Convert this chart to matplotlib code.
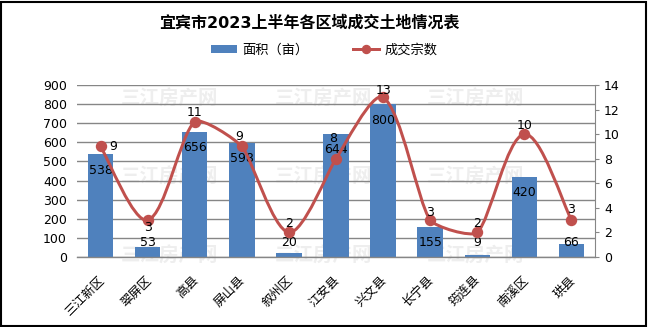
import numpy as np
import matplotlib
matplotlib.use("Agg")
import matplotlib.pyplot as plt
from matplotlib.path import Path
from matplotlib.patches import PathPatch, Rectangle, Patch
from matplotlib.lines import Line2D
from matplotlib.transforms import ScaledTranslation

plt.rcParams['font.family'] = ['DejaVu Sans', 'Noto Sans CJK SC']

# ---- data ----
districts = ['三江新区', '翠屏区', '高县', '屏山县', '叙州区', '江安县',
             '兴文县', '长宁县', '筠连县', '南溪区', '珙县']
area_mu = [538, 53, 656, 598, 20, 644, 800, 155, 9, 420, 66]
deal_count = [9, 3, 11, 9, 2, 8, 13, 3, 2, 10, 3]
left_ticks = [0, 100, 200, 300, 400, 500, 600, 700, 800, 900]
right_ticks = [0, 2, 4, 6, 8, 10, 12, 14]

# label placement for the count series (offset in pixels: dx, dy, ha)
count_label_offsets = [(9, 0, 'left'), (0, -7, 'center'), (0, 9, 'center'),
                       (-3, 10, 'center'), (0, 9, 'center'), (-3, 20, 'center'),
                       (0, 7, 'center'), (0, 8, 'center'), (0, 9, 'center'),
                       (0, 9, 'center'), (0, 11, 'center')]

BAR = '#4F81BD'
LINE = '#C0504D'
GRID = '#868686'
DPI = 100
PX = 72 / DPI  # points per pixel

W, H = 648, 327
fig = plt.figure(figsize=(W / DPI, H / DPI), dpi=DPI)
ax = fig.add_axes([77 / W, 1 - 257 / H, (595 - 77) / W, (257 - 85) / H])
ax2 = ax.twinx()
for a in (ax, ax2):
    a.patch.set_alpha(0)

# watermark
for wy in (99, 177, 256):
    for wx in (170, 323, 476):
        fig.text(wx / W, 1 - wy / H, '三江房产网', fontsize=14, fontweight='bold',
                 color='#eeeeee', ha='center', va='center', zorder=-5,
                 family='Noto Sans CJK SC')

x = np.arange(len(districts))

# bars
ax.bar(x, area_mu, width=0.54, color=BAR, zorder=2)
ax.set_ylim(0, 900)
ax.set_xlim(-0.5, len(districts) - 0.5)
ax.set_yticks(left_ticks)
ax.yaxis.grid(True, color=GRID, linewidth=1.0, zorder=0)
ax.set_axisbelow(True)
for s in ('top', 'left', 'right'):
    ax.spines[s].set_visible(False)
ax.spines['bottom'].set_color(GRID)
ax.spines['bottom'].set_linewidth(1.0)
ax.tick_params(axis='y', length=0, pad=10 * PX, labelsize=9)
ax.tick_params(axis='x', length=0, pad=12)
ax.set_xticks(x)
ax.set_xticklabels(districts, rotation=45, ha='right', va='top',
                   rotation_mode='anchor', fontsize=9, family='Noto Sans CJK SC')
shift = ScaledTranslation(-3 / DPI, 0, fig.dpi_scale_trans)
for lbl in ax.get_xticklabels():
    lbl.set_transform(lbl.get_transform() + shift)

# bar value labels
for xi, v in zip(x, area_mu):
    if v * 172 / 900 > 31:
        ax.annotate(str(v), (xi, v), xytext=(0, -16 * PX), textcoords='offset points',
                    ha='center', va='center', fontsize=9, zorder=5)
    else:
        ax.annotate(str(v), (xi, 0), xytext=(0, 15 * PX), textcoords='offset points',
                    ha='center', va='center', fontsize=9, zorder=5)

ax2.set_ylim(0, 14)
ax2.set_yticks(right_ticks)

# smoothed count line: Bezier segments with tangents scaled by neighbouring
# segment lengths, computed in screen space
pts_data = np.column_stack([x, deal_count]).astype(float)
pts = ax2.transData.transform(pts_data)
n = len(pts)
tension = 1 / 6
c_out, c_in = [], []
for i in range(n):
    prev_p = pts[i - 1] if i > 0 else pts[i]
    next_p = pts[i + 1] if i < n - 1 else pts[i]
    tang = next_p - prev_p
    d02 = np.hypot(*tang)
    d01 = np.hypot(*(pts[i] - prev_p))
    d12 = np.hypot(*(next_p - pts[i]))
    c_in.append(pts[i] - tang * tension * d01 / d02)
    c_out.append(pts[i] + tang * tension * d12 / d02)
verts = [pts[0]]
codes = [Path.MOVETO]
for i in range(n - 1):
    verts += [c_out[i], c_in[i + 1], pts[i + 1]]
    codes += [Path.CURVE4] * 3
verts_data = ax2.transData.inverted().transform(np.array(verts))
ax2.add_patch(PathPatch(Path(verts_data, codes), facecolor='none', edgecolor=LINE,
                        linewidth=3 * PX, capstyle='round', joinstyle='round', zorder=3))
ax2.plot(x, deal_count, linestyle='none', marker='o', markersize=10 * PX,
         color=LINE, zorder=4)
for s in ('top', 'left', 'bottom'):
    ax2.spines[s].set_visible(False)
ax2.spines['right'].set_color(GRID)
ax2.tick_params(axis='y', direction='out', length=3, color=GRID,
                pad=5 * PX, labelsize=9)

for xi, c, (dx, dy, ha) in zip(x, deal_count, count_label_offsets):
    ax2.annotate(str(c), (xi, c), xytext=(dx * PX, dy * PX), textcoords='offset points',
                 ha=ha, va='center', fontsize=9, zorder=6)

# title and legend
fig.text(309 / W, 1 - 23 / H, '宜宾市2023上半年各区域成交土地情况表', ha='center', va='center',
         fontsize=11.5, fontweight='bold')
handles = [Patch(facecolor=BAR, edgecolor='none'),
           Line2D([0], [0], color=LINE, linewidth=3 * PX, marker='o', markersize=8 * PX)]
fig.legend(handles, ['面积（亩）', '成交宗数'], loc='center', ncol=2,
           bbox_to_anchor=(324 / W, 1 - 50 / H), frameon=False,
           handlelength=2.0, handleheight=0.55, handletextpad=0.35, columnspacing=3.4,
           prop={'family': 'Noto Sans CJK SC', 'size': 9.5})

# chart border
fig.patches.append(Rectangle((1 / W, 1 / H), (W - 3) / W, (H - 2.5) / H, transform=fig.transFigure,
                             fill=False, edgecolor='black', linewidth=1.5, zorder=10))

fig.savefig('out.png', dpi=DPI)
